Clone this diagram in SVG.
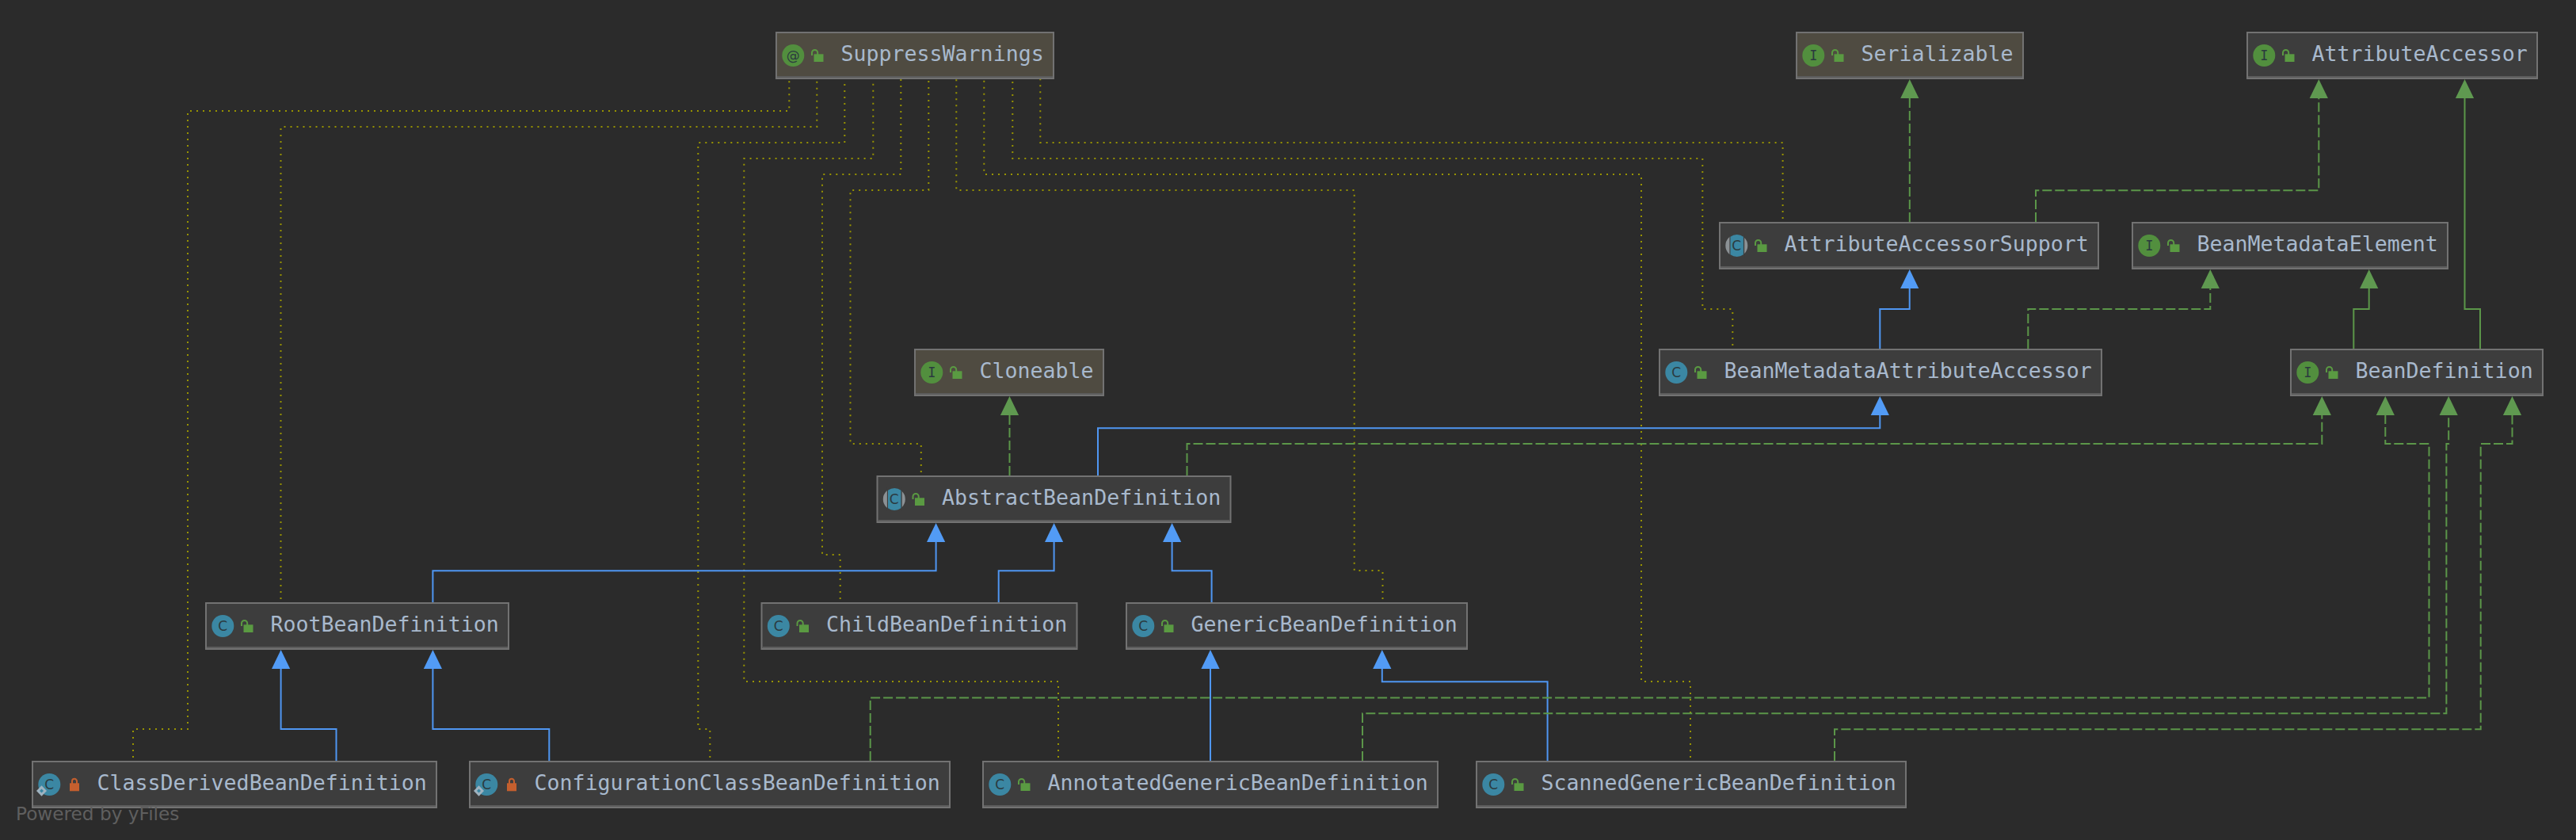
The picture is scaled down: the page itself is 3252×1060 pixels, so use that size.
<svg xmlns="http://www.w3.org/2000/svg" width="3252" height="1060" viewBox="0 0 3252 1060">
<style>
.box{fill:#3d3d3d;stroke:#727272;stroke-width:2}
.jdk{fill:#4f4b41}
.stripe{fill:#5c5c5c}
.lbl{font-family:"DejaVu Sans Mono","Liberation Mono",monospace;font-size:26.6px;fill:#a8b9cd}
.ico{font-family:"DejaVu Sans Mono","DejaVu Sans",monospace;font-size:17px;fill:#2b3a3f;text-anchor:middle}
.c{font-family:"DejaVu Sans",sans-serif;font-size:17px}
.conn path{fill:none;stroke-width:2}
.dot path{stroke:#979300;stroke-dasharray:2 6}
.gs{stroke:#5b9649}
.gd{stroke:#5b9649;stroke-dasharray:12 4}
.bs{stroke:#4f96f2}
.gh{marker-end:url(#ag)}
.bh{marker-end:url(#ab)}
.foot{font-family:"DejaVu Sans","Liberation Sans",sans-serif;font-size:23.2px;fill:#5f5f5f}
</style>
<defs>
<marker id="ag" markerUnits="userSpaceOnUse" markerWidth="24" markerHeight="24" refX="0" refY="12" orient="auto" overflow="visible"><path d="M0 0.4L24 12L0 23.6Z" fill="#5f9950"/></marker>
<marker id="ab" markerUnits="userSpaceOnUse" markerWidth="24" markerHeight="24" refX="0" refY="12" orient="auto" overflow="visible"><path d="M0 0.4L24 12L0 23.6Z" fill="#529bf5"/></marker>
<g id="open"><rect x="47.5" y="28.3" width="12" height="9.7" fill="#5a9a42"/><path d="M45 30V26.5a3.6 3.6 0 0 1 7.2 0V29" fill="none" stroke="#5a9a42" stroke-width="2"/></g>
<g id="shut"><rect x="47" y="28.3" width="12" height="10" fill="#c45f2e"/><path d="M50 29V25.8a3 3 0 0 1 6 0V29" fill="none" stroke="#c45f2e" stroke-width="2"/></g>
<circle id="ci" cx="21.3" cy="30" r="14" fill="#528f3e"/>
<circle id="cc" cx="21.3" cy="30" r="14" fill="#3b87a3"/>
<g id="ca"><circle cx="21.3" cy="30" r="14" fill="#8b9195"/><rect x="12.4" y="15" width="18.8" height="30" fill="#3d3d3d"/><path d="M13.5 18.7A14 14 0 0 1 29.9 18.7V41.3A14 14 0 0 1 13.5 41.3Z" fill="#3b87a3"/></g>
<g id="dia"><path d="M11.5 31.3L18 38L11.5 44.7L5 38Z" fill="#9fb3c0"/><path d="M11.5 35.5L14 38L11.5 40.5L9 38Z" fill="#3b87a3"/></g>
</defs>
<rect width="3252" height="1060" fill="#2b2b2b"/>
<g id="connectors" class="conn">
<g class="dot">
<path d="M168 956V920H237V140H996.3V100"/>
<path d="M354.5 756V160H1031.3V100"/>
<path d="M896.3 956V920H881.3V180H1066.3V100"/>
<path d="M1336 956V860H939.3V200H1102.3V100"/>
<path d="M1060.7 756V700H1038V220H1137.3V100"/>
<path d="M1162.8 596V560H1073.5V240H1172.3V100"/>
<path d="M1745.5 756V720H1709.7V240H1207.3V100"/>
<path d="M2134 956V860H2072V220H1242.3V100"/>
<path d="M2187.3 436V390H2149.3V200H1278.3V100"/>
<path d="M2250.6 276V180H1313.3V100"/>
</g>
<path class="gd gh" d="M2410.8 280V124"/>
<path class="gd gh" d="M2570 280V240.3H2927.3V124"/>
<path class="gs gh" d="M3131 440V390H3111.5V124"/>
<path class="gs gh" d="M2971.3 440V390H2990.7V364"/>
<path class="gd gh" d="M2560.3 440V390H2790.3V364"/>
<path class="bs bh" d="M2373.3 440V390H2410.7V364"/>
<path class="gd gh" d="M1274.5 600V524"/>
<path class="bs bh" d="M1386 600V540.3H2373.3V524"/>
<path class="gd gh" d="M1498.5 600V560H2931.3V524"/>
<path class="bs bh" d="M546.4 760V720.3H1181.6V684"/>
<path class="bs bh" d="M1260.7 760V720.3H1330.6V684"/>
<path class="bs bh" d="M1529.6 760V720.3H1479.6V684"/>
<path class="bs bh" d="M424.5 960V920H354.6V844"/>
<path class="bs bh" d="M693.3 960V920H546.4V844"/>
<path class="bs bh" d="M1528 960V844"/>
<path class="bs bh" d="M1953.6 960V860.3H1744.8V844"/>
<path class="gd gh" d="M1098.7 960V880.4H3066.5V560H3011.3V524"/>
<path class="gd gh" d="M1720 960V900.3H3088.4V560H3091.2V524"/>
<path class="gd gh" d="M2316 960V920.3H3131.7V560H3171.5V524"/>
</g>
<g id="n-suppress" transform="translate(980,40)"><rect class="box jdk" y="1" width="350" height="58"/><rect class="stripe" x="1" y="56" width="348" height="2"/><use href="#ci"/><text class="ico c" x="21.3" y="36">@</text><use href="#open"/><text class="lbl" x="81.5" y="37.3">SuppressWarnings</text></g>
<g id="n-serializable" transform="translate(2268,40)"><rect class="box jdk" y="1" width="286" height="58"/><rect class="stripe" x="1" y="56" width="284" height="2"/><use href="#ci"/><text class="ico" x="21.3" y="36">I</text><use href="#open"/><text class="lbl" x="81.5" y="37.3">Serializable</text></g>
<g id="n-attributeaccessor" transform="translate(2837,40)"><rect class="box" y="1" width="366" height="58"/><rect class="stripe" x="1" y="56" width="364" height="2"/><use href="#ci"/><text class="ico" x="21.3" y="36">I</text><use href="#open"/><text class="lbl" x="81.5" y="37.3">AttributeAccessor</text></g>
<g id="n-support" transform="translate(2171,280)"><rect class="box" y="1" width="478" height="58"/><rect class="stripe" x="1" y="56" width="476" height="2"/><use href="#ca"/><text class="ico c" x="21.3" y="36">C</text><use href="#open"/><text class="lbl" x="81.5" y="37.3">AttributeAccessorSupport</text></g>
<g id="n-element" transform="translate(2692,280)"><rect class="box" y="1" width="398" height="58"/><rect class="stripe" x="1" y="56" width="396" height="2"/><use href="#ci"/><text class="ico" x="21.3" y="36">I</text><use href="#open"/><text class="lbl" x="81.5" y="37.3">BeanMetadataElement</text></g>
<g id="n-metadata" transform="translate(2095,440)"><rect class="box" y="1" width="558" height="58"/><rect class="stripe" x="1" y="56" width="556" height="2"/><use href="#cc"/><text class="ico c" x="21.3" y="36">C</text><use href="#open"/><text class="lbl" x="81.5" y="37.3">BeanMetadataAttributeAccessor</text></g>
<g id="n-beandefinition" transform="translate(2892,440)"><rect class="box" y="1" width="318" height="58"/><rect class="stripe" x="1" y="56" width="316" height="2"/><use href="#ci"/><text class="ico" x="21.3" y="36">I</text><use href="#open"/><text class="lbl" x="81.5" y="37.3">BeanDefinition</text></g>
<g id="n-cloneable" transform="translate(1155,440)"><rect class="box jdk" y="1" width="238" height="58"/><rect class="stripe" x="1" y="56" width="236" height="2"/><use href="#ci"/><text class="ico" x="21.3" y="36">I</text><use href="#open"/><text class="lbl" x="81.5" y="37.3">Cloneable</text></g>
<g id="n-abstract" transform="translate(1107.5,600)"><rect class="box" y="1" width="446" height="58"/><rect class="stripe" x="1" y="56" width="444" height="2"/><use href="#ca"/><text class="ico c" x="21.3" y="36">C</text><use href="#open"/><text class="lbl" x="81.5" y="37.3">AbstractBeanDefinition</text></g>
<g id="n-root" transform="translate(260,760)"><rect class="box" y="1" width="382" height="58"/><rect class="stripe" x="1" y="56" width="380" height="2"/><use href="#cc"/><text class="ico c" x="21.3" y="36">C</text><use href="#open"/><text class="lbl" x="81.5" y="37.3">RootBeanDefinition</text></g>
<g id="n-child" transform="translate(961.5,760)"><rect class="box" y="1" width="398" height="58"/><rect class="stripe" x="1" y="56" width="396" height="2"/><use href="#cc"/><text class="ico c" x="21.3" y="36">C</text><use href="#open"/><text class="lbl" x="81.5" y="37.3">ChildBeanDefinition</text></g>
<g id="n-generic" transform="translate(1422,760)"><rect class="box" y="1" width="430" height="58"/><rect class="stripe" x="1" y="56" width="428" height="2"/><use href="#cc"/><text class="ico c" x="21.3" y="36">C</text><use href="#open"/><text class="lbl" x="81.5" y="37.3">GenericBeanDefinition</text></g>
<g id="n-classderived" transform="translate(41,960)"><rect class="box" y="1" width="510" height="58"/><rect class="stripe" x="1" y="56" width="508" height="2"/><use href="#cc"/><text class="ico c" x="21.3" y="36">C</text><use href="#dia"/><use href="#shut"/><text class="lbl" x="81.5" y="37.3">ClassDerivedBeanDefinition</text></g>
<g id="n-configuration" transform="translate(593,960)"><rect class="box" y="1" width="606" height="58"/><rect class="stripe" x="1" y="56" width="604" height="2"/><use href="#cc"/><text class="ico c" x="21.3" y="36">C</text><use href="#dia"/><use href="#shut"/><text class="lbl" x="81.5" y="37.3">ConfigurationClassBeanDefinition</text></g>
<g id="n-annotated" transform="translate(1241,960)"><rect class="box" y="1" width="574" height="58"/><rect class="stripe" x="1" y="56" width="572" height="2"/><use href="#cc"/><text class="ico c" x="21.3" y="36">C</text><use href="#open"/><text class="lbl" x="81.5" y="37.3">AnnotatedGenericBeanDefinition</text></g>
<g id="n-scanned" transform="translate(1864,960)"><rect class="box" y="1" width="542" height="58"/><rect class="stripe" x="1" y="56" width="540" height="2"/><use href="#cc"/><text class="ico c" x="21.3" y="36">C</text><use href="#open"/><text class="lbl" x="81.5" y="37.3">ScannedGenericBeanDefinition</text></g>
<text class="foot" x="20" y="1035">Powered by yFiles</text>
</svg>
